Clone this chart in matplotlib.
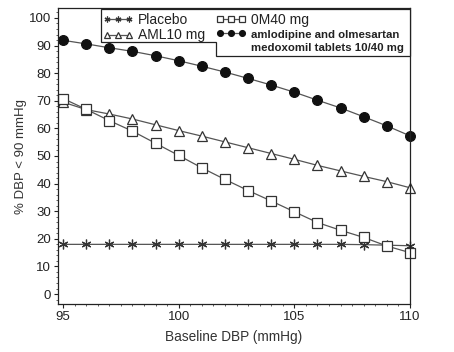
import matplotlib
matplotlib.use("Agg")
import matplotlib.pyplot as plt
from matplotlib import font_manager
from matplotlib.patches import Polygon
from matplotlib.lines import Line2D
from matplotlib.ticker import MultipleLocator

baseline_dbp = [95, 96, 97, 98, 99, 100, 101, 102, 103, 104, 105, 106, 107, 108, 109, 110]
placebo = [18, 18, 18, 18, 18, 18, 18, 18, 18, 18, 18, 18, 18, 17.9, 17.7, 17.5]
aml10 = [69.5, 66.8, 65.2, 63.4, 61.3, 59.2, 57.2, 55.1, 53.0, 50.9, 48.8, 46.6, 44.6, 42.6, 40.7, 38.5]
om40 = [70.8, 66.9, 62.8, 59.0, 54.6, 50.2, 45.7, 41.5, 37.5, 33.7, 29.8, 25.9, 23.1, 20.5, 17.4, 15.0]
combo = [91.9, 90.6, 89.2, 87.9, 86.3, 84.5, 82.5, 80.4, 78.1, 75.7, 73.1, 70.2, 67.4, 64.2, 60.9, 57.3]

labels = ["Placebo", "AML10 mg", "0M40 mg", "amlodipine and olmesartan", "medoxomil tablets 10/40 mg"]
x_ticks = [95, 100, 105, 110]
y_ticks = [0, 10, 20, 30, 40, 50, 60, 70, 80, 90, 100]

plt.rcParams['font.family'] = ['Liberation Sans', 'DejaVu Sans']

names = {f.name for f in font_manager.fontManager.ttflist}
if 'Liberation Sans Narrow' in names:
    bold_family, bold_size = 'Liberation Sans Narrow', 9.8
else:
    bold_family, bold_size = 'Liberation Sans', 8.2

fig = plt.figure(figsize=(4.54, 3.52), dpi=100)
ax = fig.add_axes([58/454, 1 - 304/352, (410-58)/454, (304-8)/352])

line_c = '#555555'
mk_c = '#333333'
h1, = ax.plot(baseline_dbp, placebo, color=line_c, lw=0.9, marker=(6, 2, 0), ms=7,
              mec=mk_c, mew=0.9, clip_on=False)
h2, = ax.plot(baseline_dbp, aml10, color=line_c, lw=0.9, marker='^', ms=7,
              mfc='white', mec=mk_c, mew=0.9, clip_on=False)
h3, = ax.plot(baseline_dbp, om40, color=line_c, lw=0.9, marker='s', ms=6.5,
              mfc='white', mec=mk_c, mew=0.9, clip_on=False)
h4, = ax.plot(baseline_dbp, combo, color=line_c, lw=0.9, marker='o', ms=7,
              mfc='#111111', mec='#111111', mew=0.9, clip_on=False)

ax.set_xlim(94.78, 110.0)
ax.set_ylim(-3.6, 103.6)
ax.set_xticks(x_ticks)
ax.set_yticks(y_ticks)
ax.xaxis.set_minor_locator(MultipleLocator(0.5))
ax.yaxis.set_minor_locator(MultipleLocator(2))
ax.tick_params(axis='both', which='major', direction='out', length=3, width=0.8,
               labelsize=9.5, colors='#222222', pad=2)
ax.tick_params(axis='both', which='minor', direction='out', length=1.5, width=0.6, colors='#444444')
for s in ax.spines.values():
    s.set_linewidth(0.9)
    s.set_color('#222222')

ax.set_xlabel("Baseline DBP (mmHg)", fontsize=9.8, color='#333333', labelpad=5)
ax.set_ylabel("% DBP < 90 mmHg", fontsize=9.5, color='#333333', labelpad=0)
ax.yaxis.set_label_coords(-0.088, 0.5)

blank = Line2D([], [], alpha=0)
leg = fig.legend([h1, h2, blank, h3, h4, blank], [labels[0], labels[1], "", labels[2], labels[3], labels[4]],
                 ncol=2, loc='upper left',
                 bbox_to_anchor=(103/454, 1 - 13/352), frameon=False,
                 fontsize=10, numpoints=3, markerscale=0.6, handlelength=2.2,
                 handletextpad=0.3, columnspacing=0.8, borderaxespad=0,
                 borderpad=0.0, labelspacing=0.1)
for t in leg.get_texts():
    t.set_color('#222222')
for t in leg.get_texts()[4:]:
    t.set_fontweight('bold')
    t.set_fontfamily(bold_family)
    t.set_fontsize(bold_size)

# stepped legend border
W, H = 454, 352
pts = [(101, 9), (410, 9), (410, 56), (216, 56), (216, 42), (101, 42)]
poly = Polygon([(px / W, 1 - py / H) for px, py in pts], closed=True, fill=True,
               facecolor='white', edgecolor='#222222', lw=0.9, transform=fig.transFigure,
               zorder=2)
fig.patches.append(poly)
leg.set_zorder(3)

fig.savefig("out.png", dpi=100)
